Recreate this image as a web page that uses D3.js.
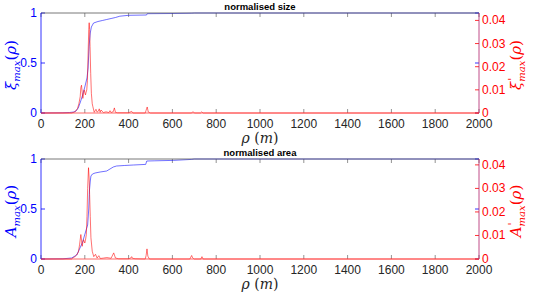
<!DOCTYPE html>
<html><head><meta charset="utf-8">
<script src="https://cdn.jsdelivr.net/npm/d3@7"></script>
<style>body{margin:0;background:#fff}svg{display:block}</style>
</head><body><svg id="c" width="536" height="294"></svg>
<script>
// ---- data ----
const xTicks = [0,200,400,600,800,1000,1200,1400,1600,1800,2000];
const leftTicks = [0,0.5,1];
const rightTicks = [0,0.01,0.02,0.03,0.04];
const titles = ["normalised size","normalised area"];

const sizeRho = [0,100,130,150,160,170,180,190,200,210,215,220,225,230,240,260,280,300,320,340,360,400,482,485,600,688,700,2000];
const sizeVal = [0,0.002,0.005,0.01,0.02,0.05,0.11,0.18,0.26,0.35,0.45,0.68,0.80,0.86,0.90,0.915,0.925,0.935,0.945,0.955,0.968,0.977,0.98,0.993,0.995,0.998,1,1];

const sizeDRho = [0,140,152,160,167,173,179,182,185,188,191,194,197,200,203,206,209,212,215,218,220,222,224,227,230,234,237,243,251,256,262,266,270,274,285,297,310,315,320,330,335,340,350,400,414,420,476,480,485,490,500,688,694,700,728,734,740,2000];
const sizeDVal = [0,0,0.0004,0.001,0.002,0.004,0.007,0.011,0.012,0.009,0.0063,0.008,0.01,0.009,0.0078,0.009,0.01,0.014,0.025,0.036,0.039,0.036,0.0287,0.017,0.0085,0.004,0.0027,0.0003,0.0016,0.0004,0.0008,0.0018,0.0003,0.0013,0.0002,0.0005,0.0002,0.001,0.0002,0.0006,0.0022,0.0003,0.0001,0.0001,0.0007,0,0,0.0012,0.0026,0.0004,0,0,0.0006,0,0,0.0005,0,0];

const areaRho = [0,100,140,163,178,190,206,213,218,221,225,228,235,247,270,300,330,345,380,422,478,483,520,604,688,700,2000];
const areaVal = [0,0.002,0.01,0.04,0.11,0.17,0.29,0.34,0.5,0.68,0.78,0.83,0.85,0.86,0.87,0.88,0.92,0.93,0.935,0.94,0.946,0.98,0.982,0.986,0.996,1,1];

const areaDRho = [0,140,147,155,163,171,176,182,185,188,191,194,197,200,203,207,210,213,217,220,222,225,228,234,241,249,256,264,271,286,301,320,332,340,355,400,410,414,418,430,476,480,484,488,495,680,684,688,692,700,730,735,740,2000];
const areaDVal = [0,0,0.0006,0.001,0.0017,0.003,0.006,0.0104,0.008,0.0054,0.007,0.0082,0.0075,0.0068,0.008,0.0104,0.018,0.03,0.0388,0.034,0.0274,0.018,0.009,0.0033,0.001,0.002,0.0004,0.0014,0.0002,0.0004,0.0006,0.0003,0.0026,0.0004,0.0001,0.0001,0.0004,0.001,0.0003,0.0001,0,0.0015,0.0043,0.0012,0,0,0.0008,0.0015,0.0005,0,0,0.001,0,0];

// ---- drawing ----
const svg = d3.select("#c");
const L = 41, R = 479;
const x = d3.scaleLinear().domain([0,2000]).range([L,R]);
const panels = [
  {top:13, bot:113, rmax:0.0432, title:titles[0], b:[sizeRho,sizeVal], r:[sizeDRho,sizeDVal], lab:"xi"},
  {top:159, bot:259, rmax:0.0425, title:titles[1], b:[areaRho,areaVal], r:[areaDRho,areaDVal], lab:"A"}
];
const blue = "#0000ff", red = "#ff0000", grey = "#262626";
const sans = "'Liberation Sans', Arial, sans-serif";
const serif = "'DejaVu Serif', 'Liberation Serif', serif";

panels.forEach(p => {
  const yl = d3.scaleLinear().domain([0,1]).range([p.bot,p.top]);
  const yr = d3.scaleLinear().domain([0,p.rmax]).range([p.bot,p.top]);
  const g = svg.append("g");

  // x ticks bottom (up) and top (down)
  xTicks.forEach(t => {
    g.append("line").attr("x1",x(t)).attr("x2",x(t)).attr("y1",p.bot).attr("y2",p.bot-4).attr("stroke","#777").attr("stroke-width",0.8);
    g.append("line").attr("x1",x(t)).attr("x2",x(t)).attr("y1",p.top).attr("y2",p.top+4).attr("stroke","#777").attr("stroke-width",0.8);
    g.append("text").attr("x",x(t)).attr("y",p.bot+14.5).attr("text-anchor","middle")
      .attr("font-family",sans).attr("font-size",12).attr("fill",grey).text(t);
  });
  // left ticks
  leftTicks.forEach(t => {
    g.append("line").attr("x1",L).attr("x2",L+4).attr("y1",yl(t)).attr("y2",yl(t)).attr("stroke",blue).attr("stroke-width",0.8);
    g.append("line").attr("x1",R).attr("x2",R-4).attr("y1",yl(t)).attr("y2",yl(t)).attr("stroke",blue).attr("stroke-width",0.8);
    g.append("text").attr("x",37).attr("y",yl(t)+4.3).attr("text-anchor","end")
      .attr("font-family",sans).attr("font-size",12).attr("fill",blue).text(d3.format("~g")(t));
  });
  rightTicks.forEach(t => {
    g.append("line").attr("x1",R).attr("x2",R-4).attr("y1",yr(t)).attr("y2",yr(t)).attr("stroke",red).attr("stroke-width",0.8);
    g.append("text").attr("x",482).attr("y",yr(t)+4).attr("text-anchor","start")
      .attr("font-family",sans).attr("font-size",12).attr("fill",red).text(t===0?"0":d3.format(".2f")(t));
  });

  // curves
  const lb = d3.line().x((d,i)=>x(p.b[0][i])).y((d,i)=>yl(p.b[1][i]));
  g.append("path").attr("d",lb(p.b[0])).attr("fill","none").attr("stroke",blue).attr("stroke-width",0.7).attr("stroke-opacity",0.8);
  const lr = d3.line().x((d,i)=>x(p.r[0][i])).y((d,i)=>yr(p.r[1][i]));
  g.append("path").attr("d",lr(p.r[0])).attr("fill","none").attr("stroke",red).attr("stroke-width",0.7).attr("stroke-opacity",0.8);

  // frame
  g.append("line").attr("x1",L).attr("x2",R).attr("y1",p.top).attr("y2",p.top).attr("stroke","#555").attr("stroke-width",0.8);
  g.append("line").attr("x1",L).attr("x2",L).attr("y1",p.top).attr("y2",p.bot).attr("stroke",blue).attr("stroke-width",0.8);
  g.append("line").attr("x1",R).attr("x2",R).attr("y1",p.top).attr("y2",p.bot).attr("stroke","#b0206a").attr("stroke-width",0.8);
  g.append("line").attr("x1",L).attr("x2",R).attr("y1",p.bot).attr("y2",p.bot).attr("stroke","#ff4040").attr("stroke-width",0.8);

  // title
  g.append("text").attr("x",(L+R)/2).attr("y",p.top-3.5).attr("text-anchor","middle")
    .attr("font-family",sans).attr("font-weight","bold").attr("font-size",9.5).attr("fill","#000").text(p.title);

  // x label
  const xl = g.append("text").attr("x",(L+R)/2).attr("y",p.bot+30).attr("text-anchor","middle")
    .attr("font-family",serif).attr("font-style","italic").attr("font-size",14).attr("fill",grey);
  xl.append("tspan").text("ρ");
  xl.append("tspan").attr("font-style","normal").text(" (");
  xl.append("tspan").text("m");
  xl.append("tspan").attr("font-style","normal").text(")");

  // y labels
  const mid = (p.top+p.bot)/2 + 2;
  function ylab(xpos, color, prime){
    const t = g.append("text").attr("transform",`translate(${xpos},${mid}) rotate(-90)`).attr("text-anchor","middle")
      .attr("font-family",serif).attr("font-style","italic").attr("font-size",15).attr("fill",color);
    t.append("tspan").text(p.lab==="xi"?"ξ":"A");
    if(prime){
      t.append("tspan").attr("font-size",11).attr("dy",-5).attr("dx",1).attr("font-style","normal").text("'");
      t.append("tspan").attr("font-size",10).attr("dy",9).attr("dx",-4).text("max");
    } else {
      t.append("tspan").attr("font-size",10).attr("dy",4).text("max");
    }
    t.append("tspan").attr("dy",-4).attr("font-style","normal").text("(");
    t.append("tspan").text("ρ");
    t.append("tspan").attr("font-style","normal").text(")");
  }
  ylab(16, blue, false);
  ylab(521, red, true);
});
</script></body></html>
